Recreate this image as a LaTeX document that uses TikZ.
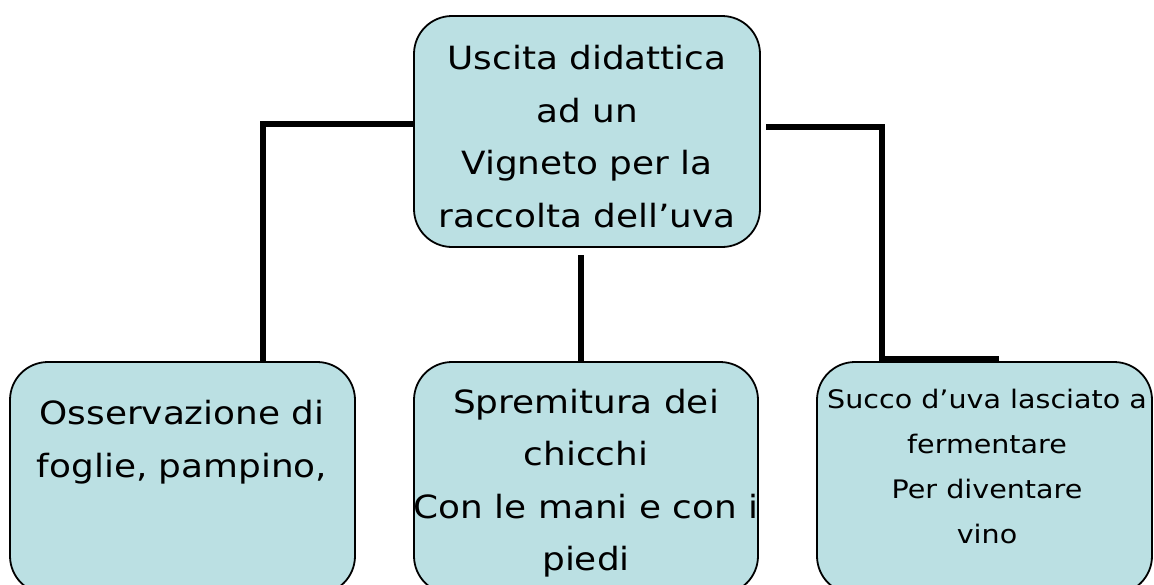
\documentclass[tikz,border=0pt]{standalone}
\usepackage{fontspec}
\setmainfont{DejaVu Sans}[FakeStretch=1.12]
\definecolor{boxfill}{HTML}{BBE0E3}
\tikzset{
  box/.style={draw=black, line width=1.8pt, fill=boxfill, rounded corners=38pt, inner sep=0pt},
  lbl/.style={align=center, inner sep=0pt, font=\fontsize{32}{52.5}\selectfont},
  slbl/.style={align=center, inner sep=0pt, font=\fontsize{25.5}{45}\selectfont},
  conn/.style={draw=black, line width=5.5pt}
}
\begin{document}
\begin{tikzpicture}[x=1pt,y=-1pt]
\useasboundingbox (0,0) rectangle (1154,584);
\clip (0,0) rectangle (1154,584);
\node[box, minimum width=346pt, minimum height=231pt] (top) at (587,131.5) {};
\node[box, minimum width=345pt, minimum height=232pt] (left) at (182.5,478) {};
\node[box, minimum width=344pt, minimum height=232pt] (mid) at (586,478) {};
\node[box, minimum width=335pt, minimum height=232pt] (right) at (984.5,478) {};
\node[lbl] (ttop) at (587,136.5) {Uscita didattica\\ad un\\Vigneto per la\\raccolta dell’uva};
\node[lbl] (tleft) at (182,442) {Osservazione di\\foglie, pampino,};
\node[lbl] (tmid) at (586,483) {Spremitura dei\\chicchi\\Con le mani e con i\\piedi};
\node[slbl] (tright) at (987,466) {Succo d’uva lasciato a\\fermentare\\Per diventare\\vino};
\coordinate (la) at (414,124);
\coordinate (lb) at (263,124);
\coordinate (lc) at (263,362);
\coordinate (ra) at (766,127);
\coordinate (rb) at (882,127);
\coordinate (rc) at (882,359);
\coordinate (rd) at (999,359);
\coordinate (ma) at (581,255);
\coordinate (mb) at (581,362);
\draw[conn] (la) -- (lb) -- (lc);
\draw[conn] (ra) -- (rb) -- (rc) -- (rd);
\draw[conn] (ma) -- (mb);
\end{tikzpicture}
\end{document}
